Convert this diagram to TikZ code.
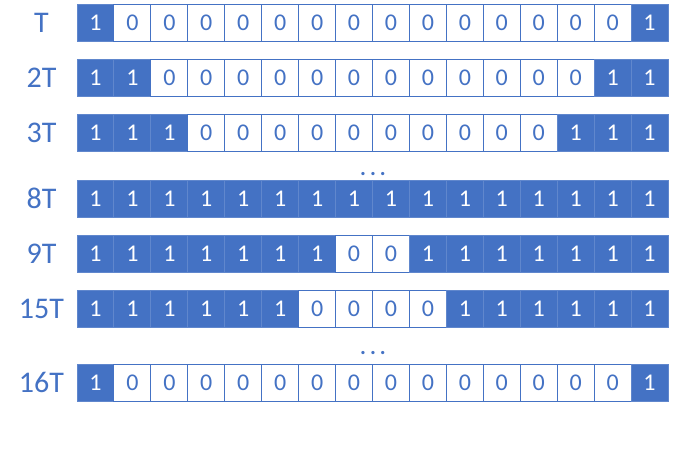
\documentclass[tikz,border=0pt]{standalone}
\usepackage{fontspec}
\setmainfont{Carlito}
\definecolor{cblue}{HTML}{4472C4}
\def\rowA{1,0,0,0,0,0,0,0,0,0,0,0,0,0,0,1}
\def\rowB{1,1,0,0,0,0,0,0,0,0,0,0,0,0,1,1}
\def\rowC{1,1,1,0,0,0,0,0,0,0,0,0,0,1,1,1}
\def\rowD{1,1,1,1,1,1,1,1,1,1,1,1,1,1,1,1}
\def\rowE{1,1,1,1,1,1,1,0,0,1,1,1,1,1,1,1}
\def\rowF{1,1,1,1,1,1,0,0,0,0,1,1,1,1,1,1}
\begin{document}
\begin{tikzpicture}[x=1pt,y=-1pt,
  cellone/.style={draw=cblue!85!white,line width=1pt,fill=cblue,text=white,minimum width=36.94pt,minimum height=37pt,inner sep=0pt,font=\fontsize{24}{24}\selectfont},
  cellzero/.style={draw=cblue,line width=1pt,fill=white,text=cblue,minimum width=36.94pt,minimum height=37pt,inner sep=0pt,font=\fontsize{24}{24}\selectfont},
  rowlabel/.style={text=cblue,font=\fontsize{30}{30}\selectfont,inner sep=0pt},
  dotsl/.style={text=cblue,font=\fontsize{22}{22}\bfseries,inner sep=0pt}]
\useasboundingbox (0,0) rectangle (674,459);
\foreach \lab/\top/\bits/\rn in {T/4.5/\rowA/r1,2T/59.5/\rowB/r2,3T/114.5/\rowC/r3,8T/180/\rowD/r4,9T/235.5/\rowE/r5,15T/290.5/\rowF/r6,16T/364/\rowA/r7}{
  \node[rowlabel] (\rn-lab) at (41.5,\top+18.5) {\lab};
  \edef\bl{\bits}
  \foreach \b [count=\i] in \bl {
    \ifnum\b=1
      \node[cellone] (\rn-\i) at (77+\i*36.94-18.47,\top+18.5) {1};
    \else
      \node[cellzero] (\rn-\i) at (77+\i*36.94-18.47,\top+18.5) {0};
    \fi
  }
}
\node[dotsl] (dots1) at (373,174) {.\hspace{4pt}.\hspace{4pt}.};
\node[dotsl] (dots2) at (373,353) {.\hspace{4pt}.\hspace{4pt}.};
\end{tikzpicture}
\end{document}
